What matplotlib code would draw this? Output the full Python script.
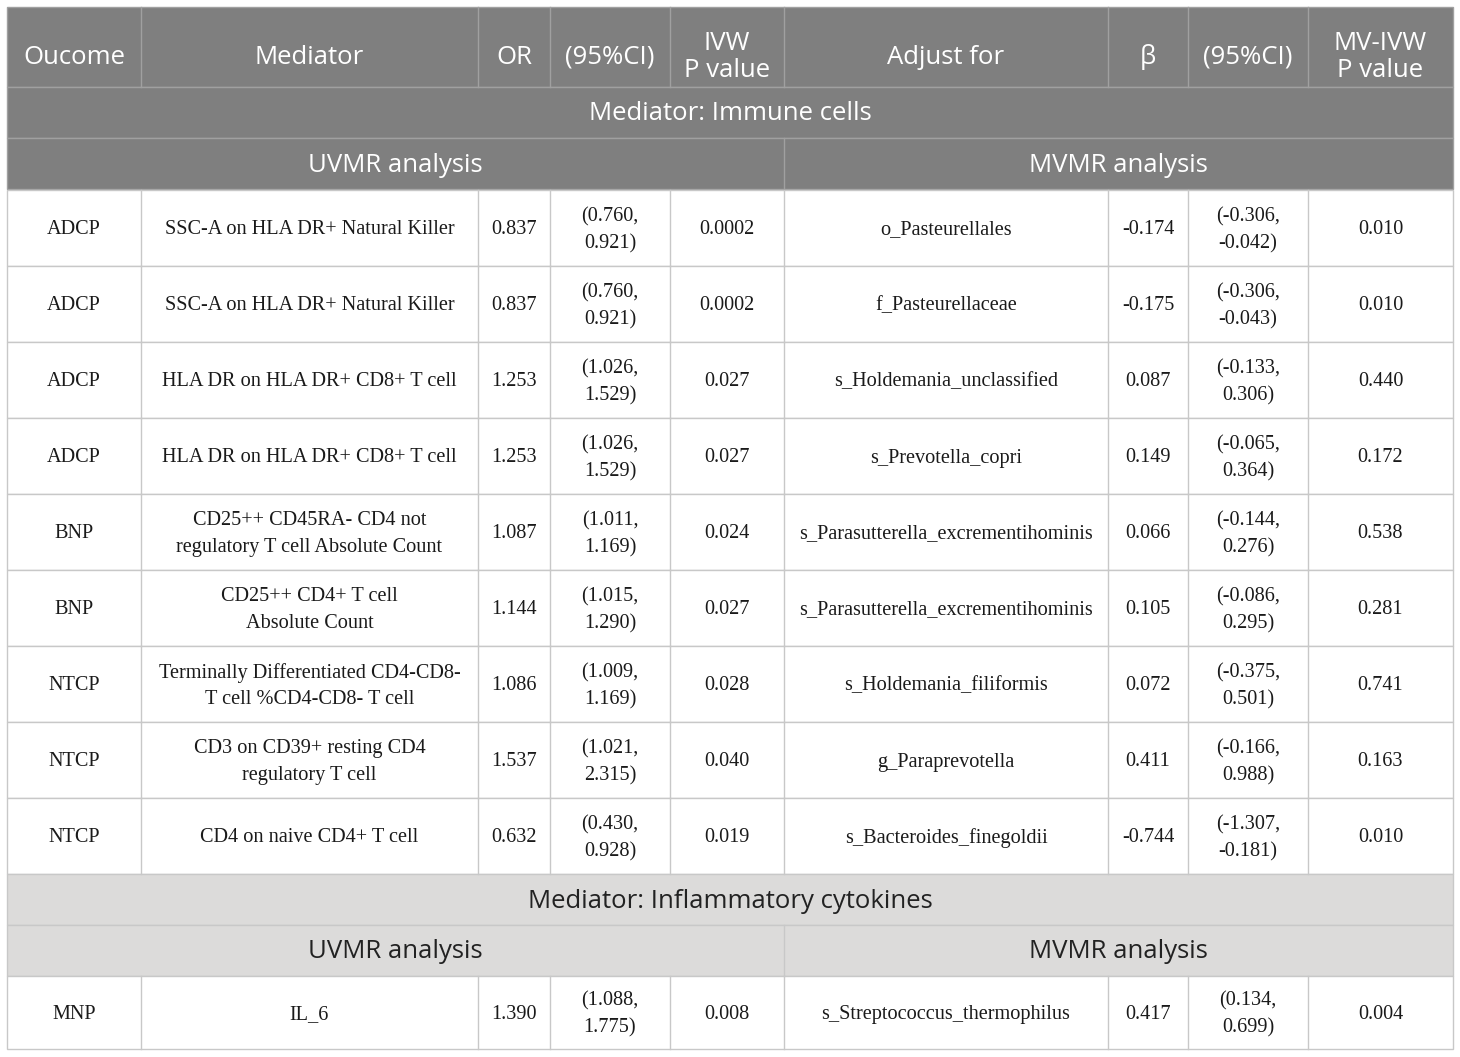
import matplotlib.pyplot as plt
from matplotlib.patches import Rectangle

DPI = 100
FIGSIZE = (14.6, 10.57)

DARK_BG = "#7f7f7f"
LIGHT_BG = "#dcdbda"
GRID_DARK = "#a0a0a0"
GRID = "#c8c8c8"
HEAD_FONT = ["Open Sans", "DejaVu Sans"]
BODY_FONT = ["Liberation Serif", "DejaVu Serif"]
FS_HEAD = 18.5
FS_BODY = 14.6

# column edges in pixels
COL_X = [7, 141, 478, 550, 670, 784, 1108, 1188, 1308, 1453]

header = ["Oucome", "Mediator", "OR", "(95%CI)", "IVW\nP value",
          "Adjust for", "β", "(95%CI)", "MV-IVW\nP value"]

outcome = ["ADCP", "ADCP", "ADCP", "ADCP", "BNP", "BNP", "NTCP", "NTCP", "NTCP"]
mediator = ["SSC-A on HLA DR+ Natural Killer",
            "SSC-A on HLA DR+ Natural Killer",
            "HLA DR on HLA DR+ CD8+ T cell",
            "HLA DR on HLA DR+ CD8+ T cell",
            "CD25++ CD45RA- CD4 not\nregulatory T cell Absolute Count",
            "CD25++ CD4+ T cell\nAbsolute Count",
            "Terminally Differentiated CD4-CD8-\nT cell %CD4-CD8- T cell",
            "CD3 on CD39+ resting CD4\nregulatory T cell",
            "CD4 on naive CD4+ T cell"]
or_val = ["0.837", "0.837", "1.253", "1.253", "1.087", "1.144", "1.086",
          "1.537", "0.632"]
or_ci = ["(0.760,\n0.921)", "(0.760,\n0.921)", "(1.026,\n1.529)",
         "(1.026,\n1.529)", "(1.011,\n1.169)", "(1.015,\n1.290)",
         "(1.009,\n1.169)", "(1.021,\n2.315)", "(0.430,\n0.928)"]
ivw_p = ["0.0002", "0.0002", "0.027", "0.027", "0.024", "0.027", "0.028",
         "0.040", "0.019"]
adjust = ["o_Pasteurellales", "f_Pasteurellaceae", "s_Holdemania_unclassified",
          "s_Prevotella_copri", "s_Parasutterella_excrementihominis",
          "s_Parasutterella_excrementihominis", "s_Holdemania_filiformis",
          "g_Paraprevotella", "s_Bacteroides_finegoldii"]
beta = ["-0.174", "-0.175", "0.087", "0.149", "0.066", "0.105", "0.072",
        "0.411", "-0.744"]
beta_ci = ["(-0.306,\n-0.042)", "(-0.306,\n-0.043)", "(-0.133,\n0.306)",
           "(-0.065,\n0.364)", "(-0.144,\n0.276)", "(-0.086,\n0.295)",
           "(-0.375,\n0.501)", "(-0.166,\n0.988)", "(-1.307,\n-0.181)"]
mv_p = ["0.010", "0.010", "0.440", "0.172", "0.538", "0.281", "0.741",
        "0.163", "0.010"]

cyto_row = ["MNP", "IL_6", "1.390", "(1.088,\n1.775)", "0.008",
            "s_Streptococcus_thermophilus", "0.417", "(0.134,\n0.699)", "0.004"]

section1 = "Mediator: Immune cells"
section2 = "Mediator: Inflammatory cytokines"
uv_label = "UVMR analysis"
mv_label = "MVMR analysis"


def band(ax, y0, y1, color, edge):
    ax.add_patch(Rectangle((COL_X[0], y0), COL_X[-1] - COL_X[0], y1 - y0,
                           facecolor=color, edgecolor=edge, lw=1))


def main():
    fig = plt.figure(figsize=FIGSIZE, dpi=DPI)
    ax = fig.add_axes([0, 0, 1, 1])
    ax.set_xlim(0, 1460)
    ax.set_ylim(1057, 0)
    ax.axis("off")

    # header row
    band(ax, 7, 87, DARK_BG, GRID_DARK)
    for i, h in enumerate(header):
        xc = (COL_X[i] + COL_X[i + 1]) / 2
        ax.text(xc, 57, h, ha="center", va="center", color="white",
                fontsize=FS_HEAD, family=HEAD_FONT, linespacing=1.1)
        if i > 0:
            ax.plot([COL_X[i]] * 2, [7, 87], color=GRID_DARK, lw=1)

    def section(y0, title, bg, edge, txt):
        band(ax, y0, y0 + 51, bg, edge)
        ax.text((COL_X[0] + COL_X[-1]) / 2, y0 + 27, title, ha="center",
                va="center", color=txt, fontsize=FS_HEAD, family=HEAD_FONT)
        band(ax, y0 + 51, y0 + 102, bg, edge)
        ax.plot([COL_X[5]] * 2, [y0 + 51, y0 + 102], color=edge, lw=1)
        ax.text((COL_X[0] + COL_X[5]) / 2, y0 + 78, uv_label, ha="center",
                va="center", color=txt, fontsize=FS_HEAD, family=HEAD_FONT)
        ax.text((COL_X[5] + COL_X[-1]) / 2, y0 + 78, mv_label, ha="center",
                va="center", color=txt, fontsize=FS_HEAD, family=HEAD_FONT)

    def data_row(y0, h, cells):
        ax.add_patch(Rectangle((COL_X[0], y0), COL_X[-1] - COL_X[0], h,
                               facecolor="white", edgecolor=GRID, lw=1))
        for i, c in enumerate(cells):
            xc = (COL_X[i] + COL_X[i + 1]) / 2
            ax.text(xc, y0 + h / 2 + 2, c, ha="center", va="center",
                    color="#1a1a1a", fontsize=FS_BODY, family=BODY_FONT,
                    linespacing=1.56)
            if i > 0:
                ax.plot([COL_X[i]] * 2, [y0, y0 + h], color=GRID, lw=1)

    section(87, section1, DARK_BG, GRID_DARK, "white")
    y = 190
    row_h = 76
    for k in range(len(outcome)):
        data_row(y, row_h, [outcome[k], mediator[k], or_val[k], or_ci[k],
                            ivw_p[k], adjust[k], beta[k], beta_ci[k], mv_p[k]])
        y += row_h

    section(874, section2, LIGHT_BG, GRID, "#222222")
    data_row(976, 73, cyto_row)

    fig.savefig("out.png", dpi=DPI)


if __name__ == "__main__":
    main()
